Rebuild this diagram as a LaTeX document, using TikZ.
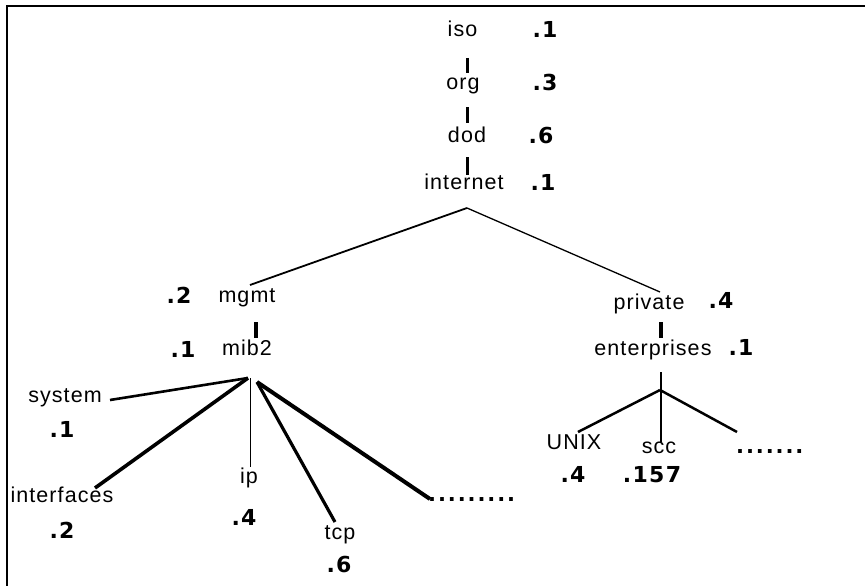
\documentclass[tikz,border=0pt]{standalone}
\usepackage{fontspec}
\setmainfont{Liberation Sans}[LetterSpace=5]
\newfontfamily\numfont{DejaVu Sans}[LetterSpace=6]
\newfontfamily\dotfont{DejaVu Sans}[LetterSpace=9]
\begin{document}
\begin{tikzpicture}[x=1pt,y=-1pt,
  lbl/.style={anchor=base, inner sep=0pt, font=\fontsize{21.5}{21.5}\selectfont},
  num/.style={anchor=base, inner sep=0pt, font=\numfont\bfseries\fontsize{22}{22}\selectfont},
  dotsx/.style={anchor=base west, inner sep=0pt, font=\dotfont\bfseries\fontsize{21}{21}\selectfont},
  bar/.style={line width=3.4pt},
  edge/.style={line width=#1},
  edge/.default=2pt]
\useasboundingbox (0,0) rectangle (865,586);
% frame (only top and left edges visible)
\draw[line width=2pt] (7,586) -- (7,6) -- (865,6);

% labels
\node[lbl] (iso) at (462.5,37) {iso};
\node[num] (n-iso) at (545,38) {.1};
\node[lbl] (org) at (463,89) {org};
\node[num] (n-org) at (545,90) {.3};
\node[lbl] (dod) at (467,142) {dod};
\node[num] (n-dod) at (541,143) {.6};
\node[lbl] (internet) at (464,189) {internet};
\node[num] (n-internet) at (543,190) {.1};

\node[lbl] (mgmt) at (247,302) {mgmt};
\node[num] (n-mgmt) at (179,303) {.2};
\node[lbl] (mib2) at (247,355) {mib2};
\node[num] (n-mib2) at (183,357) {.1};

\node[lbl] (system) at (65,402) {system};
\node[num] (n-system) at (62,437) {.1};
\node[lbl] (interfaces) at (62,502) {interfaces};
\node[num] (n-interfaces) at (62,538) {.2};
\node[lbl] (ip) at (249,483) {ip};
\node[num] (n-ip) at (244,525) {.4};
\node[lbl] (tcp) at (340,539) {tcp};
\node[num] (n-tcp) at (339,572) {.6};
\node[dotsx] (dotsL) at (428,501) {.........};

\node[lbl] (private) at (649,309) {private};
\node[num] (n-private) at (721,308) {.4};
\node[lbl] (enterprises) at (653,355) {enterprises};
\node[num] (n-enterprises) at (741,355) {.1};
\node[lbl] (unix) at (574,449) {UNIX};
\node[num] (n-unix) at (573,482) {.4};
\node[lbl] (scc) at (659,453) {scc};
\node[num] (n-scc) at (652,482) {.157};
\node[dotsx] (dotsR) at (736,453) {.......};

% connector points
\coordinate (isoB) at (467.7,58);  \coordinate (orgT) at (467.7,73);
\coordinate (orgB) at (467.7,107); \coordinate (dodT) at (467.7,123);
\coordinate (dodB) at (467.7,157); \coordinate (intT) at (467.7,175);
\coordinate (intApex) at (467,208);
\coordinate (mgmtE) at (250,285);
\coordinate (privE) at (660,292);
\coordinate (mgmtB) at (256,322); \coordinate (mibT) at (256,338);
\coordinate (mibA) at (248,378);
\coordinate (mibB) at (257,382);
\coordinate (sysE) at (110,400);
\coordinate (ifE) at (95,488);
\coordinate (ipT) at (250,378); \coordinate (ipE) at (250,467);
\coordinate (tcpE) at (335,522);
\coordinate (dotsLE) at (430,499);
\coordinate (privB) at (661,322); \coordinate (entT) at (661,338);
\coordinate (entB) at (661,372); \coordinate (sccE) at (661,442);
\coordinate (entA) at (660,390);
\coordinate (unixE) at (578,432);
\coordinate (dotsRE) at (737,432);

% connectors
\draw[bar] (isoB) -- (orgT);
\draw[bar] (orgB) -- (dodT);
\draw[bar] (dodB) -- (intT);
\draw[edge=1.8pt] (intApex) -- (mgmtE);
\draw[edge=1.3pt] (intApex) -- (privE);
\draw[bar] (mgmtB) -- (mibT);
\draw[edge=2.6pt] (mibA) -- (sysE);
\draw[edge=3.6pt] (mibA) -- (ifE);
\draw[edge=1pt] (ipT) -- (ipE);
\draw[edge=3.2pt] (mibB) -- (tcpE);
\draw[edge=4pt] (mibB) -- (dotsLE);
\draw[bar] (privB) -- (entT);
\draw[edge=2.8pt] (entB) -- (sccE);
\draw[edge=2.5pt] (entA) -- (unixE);
\draw[edge=2.5pt] (entA) -- (dotsRE);
\end{tikzpicture}
\end{document}
